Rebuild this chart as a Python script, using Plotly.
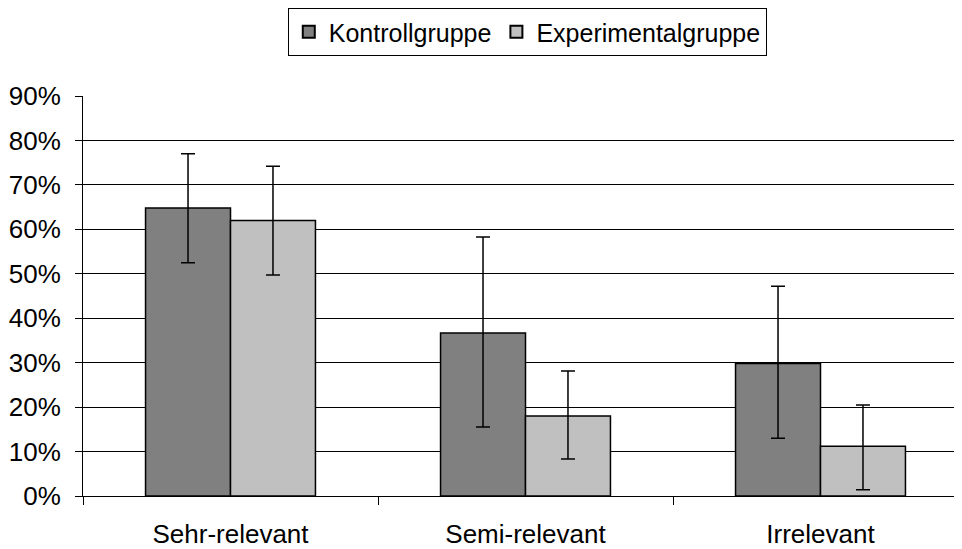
import plotly.graph_objects as go

categories = ["Sehr-relevant", "Semi-relevant", "Irrelevant"]
kontroll = [64.8, 36.7, 29.8]
kontroll_err_plus = [12.2, 21.6, 17.4]
kontroll_err_minus = [12.3, 21.2, 16.8]
experimental = [62.0, 18.0, 11.2]
experimental_err_plus = [12.2, 10.1, 9.3]
experimental_err_minus = [12.3, 9.7, 9.8]
y_ticks = [0, 10, 20, 30, 40, 50, 60, 70, 80, 90]
y_tick_labels = ["0%", "10%", "20%", "30%", "40%", "50%", "60%", "70%", "80%", "90%"]

FONT = "Liberation Sans, Arial, sans-serif"
FS = 26

fig = go.Figure()
fig.add_trace(go.Bar(
    name="Kontrollgruppe", x=categories, y=kontroll,
    marker=dict(color="#808080", line=dict(color="#000000", width=1.5)),
    error_y=dict(type="data", symmetric=False, array=kontroll_err_plus,
                 arrayminus=kontroll_err_minus, color="#000000", thickness=1.5, width=7),
))
fig.add_trace(go.Bar(
    name="Experimentalgruppe", x=categories, y=experimental,
    marker=dict(color="#C0C0C0", line=dict(color="#000000", width=1.5)),
    error_y=dict(type="data", symmetric=False, array=experimental_err_plus,
                 arrayminus=experimental_err_minus, color="#000000", thickness=1.5, width=7),
))

fig.update_layout(
    width=962, height=549,
    margin=dict(l=75, r=2, t=88, b=61, autoexpand=False),
    paper_bgcolor="white", plot_bgcolor="white",
    font=dict(family=FONT, size=FS, color="#000000"),
    barmode="group", bargap=0.424, bargroupgap=0,
    showlegend=True,
    legend=dict(orientation="h", x=0.502, xanchor="center", y=1.22, yanchor="top",
                bordercolor="#000000", borderwidth=1, bgcolor="white",
                font=dict(family=FONT, size=25, color="#000000"),
                itemsizing="constant", traceorder="normal", itemwidth=30),
)
fig.update_xaxes(
    type="category", range=[-0.5, 2.5], automargin=False,
    showline=True, linecolor="#000000", linewidth=1,
    ticks="outside", ticklen=8, tickcolor="#000000", tickson="boundaries",
    showgrid=False, tickfont=dict(size=FS), ticklabelstandoff=15,
)
fig.update_yaxes(
    range=[0, 90], tickvals=y_ticks, ticktext=y_tick_labels, automargin=False,
    showline=True, linecolor="#000000", linewidth=1,
    ticks="outside", ticklen=7, tickcolor="#000000",
    showgrid=True, gridcolor="#000000", gridwidth=1, zeroline=False,
    ticklabelstandoff=9, tickfont=dict(size=FS),
)

fig.write_html("out.html")
